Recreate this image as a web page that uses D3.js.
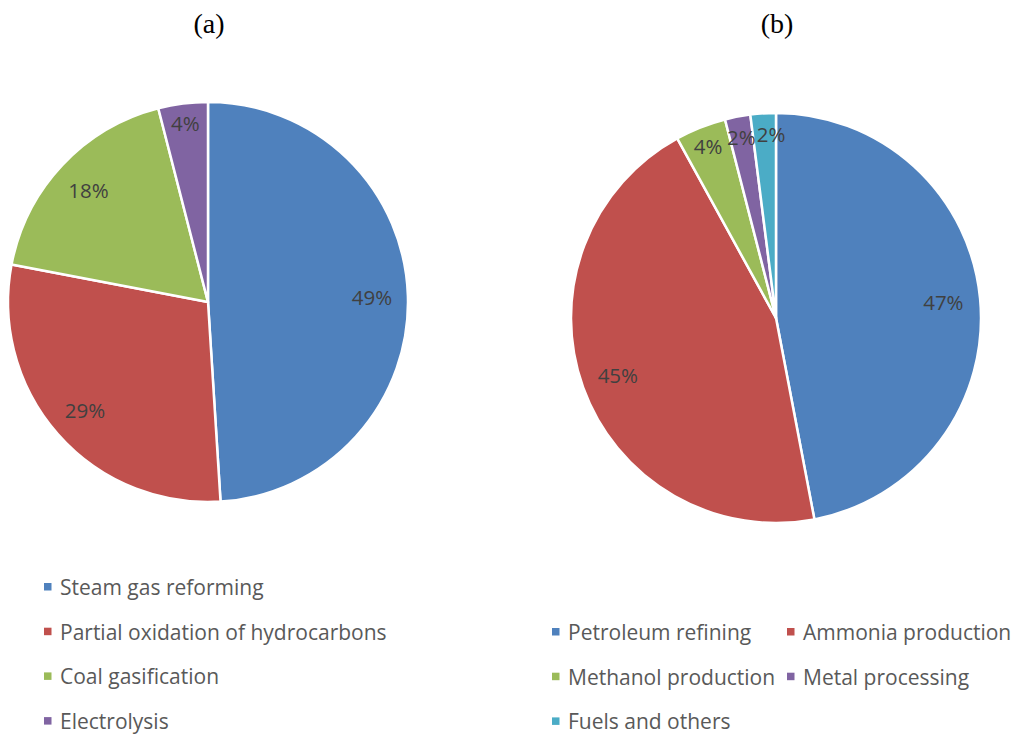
<!DOCTYPE html>
<html>
<head>
<meta charset="utf-8">
<script src="https://cdn.jsdelivr.net/npm/d3@7"></script>
<style>
  body { margin: 0; background: #fff; }
</style>
</head>
<body>
<script>
// chart (a): hydrogen production methods
const namesA = ["Steam gas reforming", "Partial oxidation of hydrocarbons", "Coal gasification", "Electrolysis"]
const valuesA = [49, 29, 18, 4]

// chart (b): hydrogen uses
const namesB = ["Petroleum refining", "Ammonia production", "Methanol production", "Metal processing", "Fuels and others"]
const valuesB = [47, 45, 4, 2, 2]

const colors = ["#4F81BD", "#C0504D", "#9BBB59", "#8064A2", "#4BACC6"]

const width = 1017
const height = 735
const font = "'Open Sans', Lato, sans-serif"

const svg = d3.select("body").append("svg")
              .attr("width", width)
              .attr("height", height)

const drawPie = (names, values, cx, cy, r, title) => {
  const g = svg.append("g").attr("transform", `translate(${cx},${cy})`)

  const pie = d3.pie().sort(null).value(d => d)
  const arcs = pie(values)
  const arc = d3.arc().innerRadius(0).outerRadius(r)

  g.selectAll("path")
   .data(arcs)
   .enter()
   .append("path")
   .attr("d", arc)
   .attr("fill", (d, i) => colors[i])
   .attr("stroke", "#fff")
   .attr("stroke-width", 2.5)
   .attr("stroke-linejoin", "round")

  // labels sit inside, small slices a bit nearer the rim
  const pos = arcs.map(d => {
    const k = d.data < 5 ? 0.9 : 0.82
    const a = (d.startAngle + d.endAngle) / 2
    return [Math.sin(a) * r * k, -Math.cos(a) * r * k]
  })

  const labels = g.selectAll("text")
   .data(arcs)
   .enter()
   .append("text")
   .attr("text-anchor", "middle")
   .attr("dominant-baseline", "central")
   .attr("font-family", font)
   .attr("font-size", 20.5)
   .attr("fill", "#404040")
   .text(d => d.data + "%")

  // push a label right if it runs into the one before it
  const nodes = labels.nodes()
  nodes.forEach((n, i) => {
    if (i == 0) return
    const w = n.getComputedTextLength()
    const pw = nodes[i - 1].getComputedTextLength()
    const dx = pos[i][0] - pos[i - 1][0]
    const dy = Math.abs(pos[i][1] - pos[i - 1][1])
    const need = (w + pw) / 2 + 1
    if (dy < 16 && dx > 0 && dx < need) pos[i][0] = pos[i - 1][0] + need
  })
  labels.attr("transform", (d, i) => `translate(${pos[i][0]},${pos[i][1]})`)

  svg.append("text")
     .attr("x", cx + 1)
     .attr("y", 33)
     .attr("text-anchor", "middle")
     .attr("font-family", "'Liberation Serif', 'Times New Roman', serif")
     .attr("font-size", 28)
     .attr("fill", "#000")
     .text(title)
}

drawPie(namesA, valuesA, 208, 302, 200, "(a)")
drawPie(namesB, valuesB, 776, 318, 205, "(b)")

const legendItem = (x, y, name, color) => {
  svg.append("rect")
     .attr("x", x)
     .attr("y", y - 4)
     .attr("width", 7.5)
     .attr("height", 7.5)
     .attr("fill", color)
  svg.append("text")
     .attr("x", x + 16)
     .attr("y", y)
     .attr("dominant-baseline", "central")
     .attr("font-family", font)
     .attr("font-size", 21)
     .attr("fill", "#595959")
     .text(name)
}

// legend (a): one column
namesA.forEach((n, i) => legendItem(44, 587 + i * 44.7, n, colors[i]))

// legend (b): two columns
namesB.forEach((n, i) => {
  const col = i % 2
  const row = Math.floor(i / 2)
  legendItem(col ? 787 : 552, 632 + row * 44.7, n, colors[i])
})
</script>
</body>
</html>
